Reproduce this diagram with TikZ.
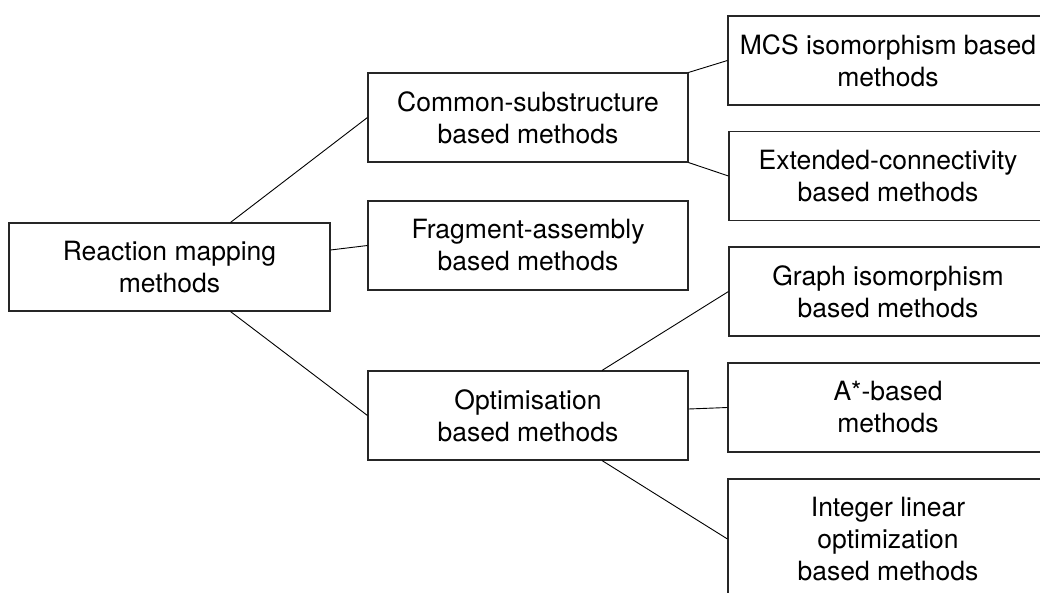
\documentclass[tikz,border=0pt]{standalone}
\usepackage{fontspec}
\setmainfont{TeX Gyre Heros}
\begin{document}
\begin{tikzpicture}[x=1pt,y=-1pt,
  box/.style={draw=black!85,line width=1.1pt,minimum width=320pt,minimum height=89pt,
    align=center,inner sep=0pt,font=\fontsize{26.5}{32}\selectfont},
  link/.style={draw=black,line width=0.9pt}]
\useasboundingbox (0,0) rectangle (1040,593);
\clip (0,0) rectangle (1040,593);
\node[box,minimum width=321pt,minimum height=88pt] (root) at (169.5,267) {Reaction mapping\\methods};
\node[box] (common) at (528,117.5) {Common-substructure\\based methods};
\node[box] (frag) at (528,245.5) {Fragment-assembly\\based methods};
\node[box] (opt) at (528,415.5) {Optimisation\\based methods};
\node[box] (mcs) at (888,60.5) {MCS isomorphism based\\methods};
\node[box,minimum width=318pt] (ext) at (888,176) {Extended-connectivity\\based methods};
\node[box,minimum width=318pt] (graph) at (888,291.5) {Graph isomorphism\\based methods};
\node[box] (astar) at (888,407.5) {A*-based\\methods};
\node[box,minimum height=120pt] (ilo) at (888,539) {Integer linear\\optimization\\based methods};
\draw[link] ([xshift=61pt]root.north) -- (common.west);
\draw[link] ([yshift=17pt]root.east) -- (frag.west);
\draw[link] ([xshift=61pt]root.south) -- (opt.west);
\draw[link] (common.north east) -- (mcs.west);
\draw[link] (common.south east) -- (ext.west);
\draw[link] ([xshift=74pt]opt.north) -- (graph.west);
\draw[link] ([yshift=6.5pt]opt.east) -- (astar.west);
\draw[link] ([xshift=74pt]opt.south) -- (ilo.west);
\end{tikzpicture}
\end{document}
